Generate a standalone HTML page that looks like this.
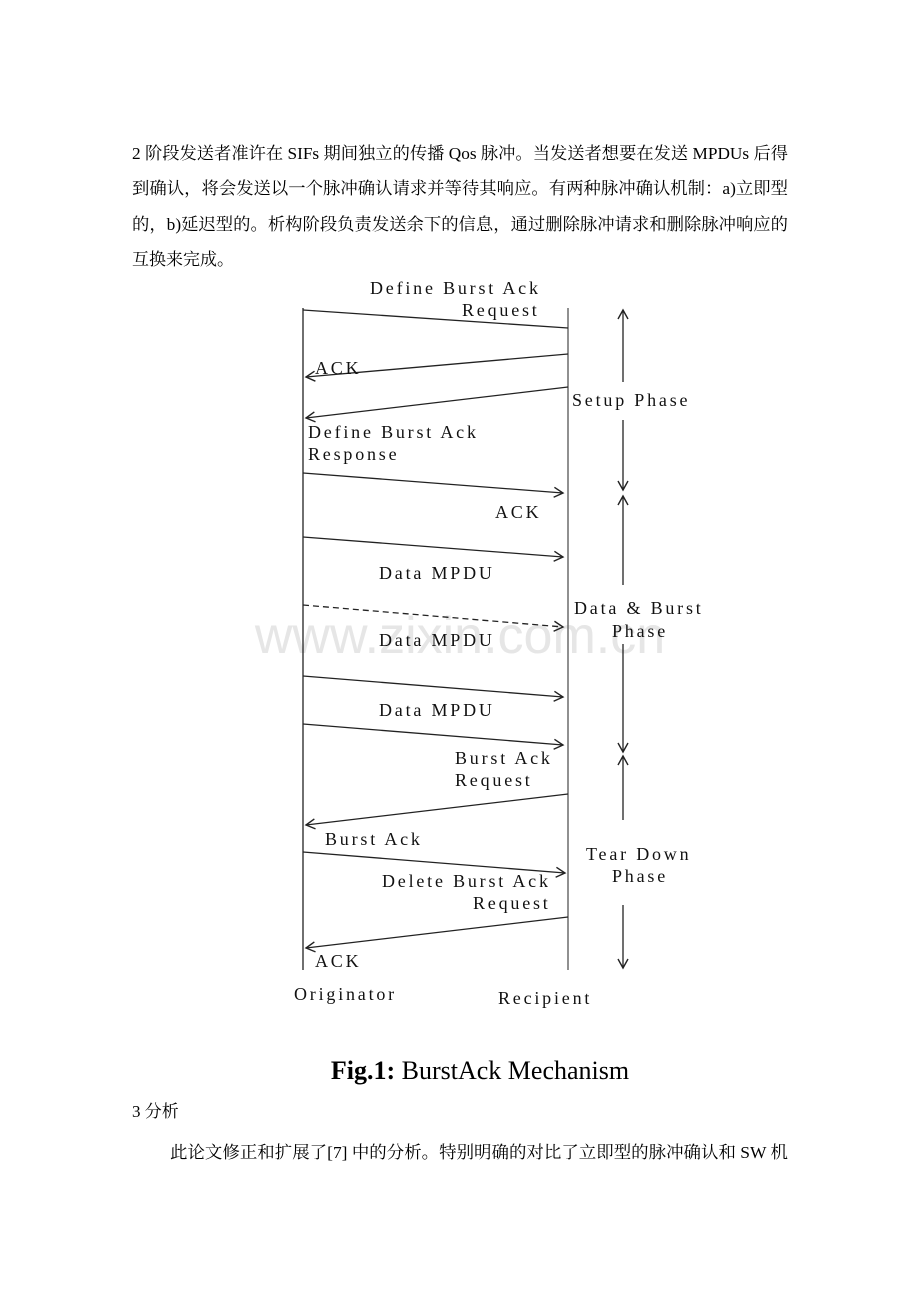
<!DOCTYPE html>
<html><head><meta charset="utf-8"><style>
html,body{margin:0;padding:0;background:#fff;}
svg{display:block;}
.cn{font-family:"Liberation Serif","Noto Serif CJK SC",serif;font-size:17px;fill:#000;}
.d{font-family:"Liberation Serif",serif;font-size:18px;letter-spacing:2.8px;fill:#111;}
</style></head><body>
<svg width="920" height="1302" viewBox="0 0 920 1302" xmlns="http://www.w3.org/2000/svg">
<defs>
<marker id="a" markerWidth="12" markerHeight="12" refX="10" refY="6" orient="auto" markerUnits="userSpaceOnUse">
<path d="M1,1 L10,6 L1,11" fill="none" stroke="#222" stroke-width="1.4"/></marker>
</defs>
<text class="cn" x="132" y="159" textLength="656" lengthAdjust="spacingAndGlyphs">2 阶段发送者准许在 SIFs 期间独立的传播 Qos 脉冲。当发送者想要在发送 MPDUs 后得</text>
<text class="cn" x="132" y="194" textLength="656" lengthAdjust="spacingAndGlyphs">到确认，将会发送以一个脉冲确认请求并等待其响应。有两种脉冲确认机制：a)立即型</text>
<text class="cn" x="132" y="230" textLength="656" lengthAdjust="spacingAndGlyphs">的，b)延迟型的。析构阶段负责发送余下的信息，通过删除脉冲请求和删除脉冲响应的</text>
<text class="cn" x="132" y="265">互换来完成。</text>

<text x="460" y="653" text-anchor="middle" font-family="Liberation Sans,sans-serif" font-size="52" fill="#e6e6e6">www.zixin.com.cn</text>

<g stroke="#222" stroke-width="1.3" fill="none">
<line x1="303" y1="308" x2="303" y2="970"/>
<line x1="568" y1="308" x2="568" y2="970" stroke="#555"/>
<line x1="303" y1="310" x2="568" y2="328"/>
<line x1="568" y1="354" x2="306" y2="377" marker-end="url(#a)"/>
<line x1="568" y1="387" x2="306" y2="418" marker-end="url(#a)"/>
<line x1="303" y1="473" x2="563" y2="493" marker-end="url(#a)"/>
<line x1="303" y1="537" x2="563" y2="557" marker-end="url(#a)"/>
<line x1="303" y1="605" x2="563" y2="627" stroke-dasharray="6,4" marker-end="url(#a)"/>
<line x1="303" y1="676" x2="563" y2="697" marker-end="url(#a)"/>
<line x1="303" y1="724" x2="563" y2="745" marker-end="url(#a)"/>
<line x1="568" y1="794" x2="306" y2="825" marker-end="url(#a)"/>
<line x1="303" y1="852" x2="565" y2="873" marker-end="url(#a)"/>
<line x1="568" y1="917" x2="306" y2="948" marker-end="url(#a)"/>
<line x1="623" y1="382" x2="623" y2="310" marker-end="url(#a)"/>
<line x1="623" y1="420" x2="623" y2="490" marker-end="url(#a)"/>
<line x1="623" y1="585" x2="623" y2="496" marker-end="url(#a)"/>
<line x1="623" y1="644" x2="623" y2="752" marker-end="url(#a)"/>
<line x1="623" y1="820" x2="623" y2="756" marker-end="url(#a)"/>
<line x1="623" y1="905" x2="623" y2="968" marker-end="url(#a)"/>
</g>

<g class="d">
<text x="370" y="294">Define Burst Ack</text>
<text x="462" y="316">Request</text>
<text x="315" y="374">ACK</text>
<text x="572" y="406">Setup Phase</text>
<text x="308" y="438">Define Burst Ack</text>
<text x="308" y="460">Response</text>
<text x="495" y="518">ACK</text>
<text x="379" y="579">Data MPDU</text>
<text x="574" y="614">Data &amp; Burst</text>
<text x="612" y="637">Phase</text>
<text x="379" y="646">Data MPDU</text>
<text x="379" y="716">Data MPDU</text>
<text x="455" y="764">Burst Ack</text>
<text x="455" y="786">Request</text>
<text x="325" y="845">Burst Ack</text>
<text x="586" y="860">Tear Down</text>
<text x="612" y="882">Phase</text>
<text x="382" y="887">Delete Burst Ack</text>
<text x="473" y="909">Request</text>
<text x="315" y="967">ACK</text>
<text x="294" y="1000">Originator</text>
<text x="498" y="1004">Recipient</text>
</g>

<text x="480" y="1079" text-anchor="middle" font-family="Liberation Serif,serif" font-size="26" fill="#000"><tspan font-weight="bold">Fig.1:</tspan> BurstAck Mechanism</text>
<text class="cn" x="132" y="1117">3  分析</text>
<text class="cn" x="170" y="1158" textLength="618" lengthAdjust="spacingAndGlyphs">此论文修正和扩展了[7]  中的分析。特别明确的对比了立即型的脉冲确认和 SW 机</text>
</svg>
</body></html>
